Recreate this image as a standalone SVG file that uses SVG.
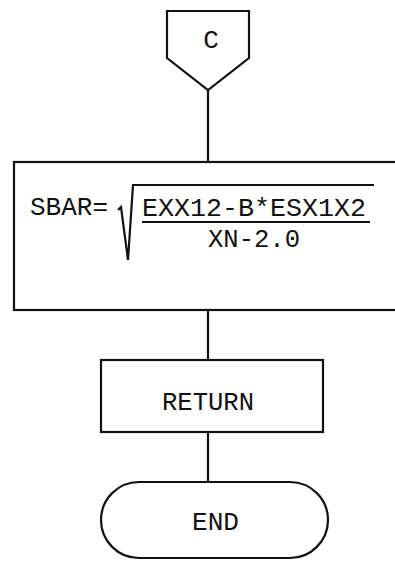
<svg xmlns="http://www.w3.org/2000/svg" width="395" height="563" viewBox="0 0 395 563">
<style>
.s{fill:#fff;stroke:#111;stroke-width:2.2}
.l{fill:none;stroke:#111;stroke-width:2.2}
.t{font-family:"Liberation Mono","Courier New",monospace;font-size:26px;fill:#111}
</style>
<rect width="395" height="563" fill="#fff"/>
<g id="connectors">
<line class="l" x1="208" y1="90" x2="208" y2="162"/>
<line class="l" x1="208" y1="310" x2="208" y2="360"/>
<line class="l" x1="208" y1="432" x2="208" y2="482"/>
</g>
<g id="connector-C">
<polygon class="s" points="167,11 249,11 249,58 208,90 167,58"/>
<text class="t" x="211" y="48" text-anchor="middle">C</text>
</g>
<g id="compute-SBAR">
<rect class="s" x="14" y="162" width="400" height="148"/>
<text class="t" x="30" y="215" textLength="78" lengthAdjust="spacingAndGlyphs">SBAR=</text>
<path class="l" d="M118,210 L121,207 L128,260 L133,185 L374,185" stroke-width="1.8"/>
<text class="t" x="142" y="216" textLength="224" lengthAdjust="spacingAndGlyphs">EXX12-B*ESX1X2</text>
<line class="l" x1="142" y1="222" x2="370" y2="222" stroke-width="1.8"/>
<text class="t" x="208" y="247" textLength="92" lengthAdjust="spacingAndGlyphs">XN-2.0</text>
</g>
<g id="return">
<rect class="s" x="101" y="360" width="222" height="72"/>
<text class="t" x="162" y="410" textLength="92" lengthAdjust="spacingAndGlyphs">RETURN</text>
</g>
<g id="end">
<rect class="s" x="101" y="482" width="227" height="76" rx="38" ry="38"/>
<text class="t" x="192" y="530" textLength="47" lengthAdjust="spacingAndGlyphs">END</text>
</g>
</svg>
